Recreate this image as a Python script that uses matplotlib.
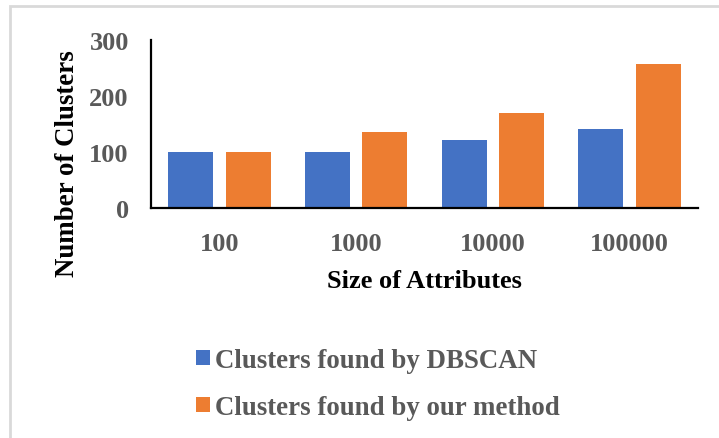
import numpy as np
import matplotlib
matplotlib.use("Agg")
from matplotlib import pyplot as plt
from matplotlib.patches import Rectangle

# data
categories = ["100", "1000", "10000", "100000"]
dbscan = [100, 100, 121, 141]
our_method = [100, 136, 170, 258]
series_names = ["Clusters found by DBSCAN", "Clusters found by our method"]

plt.rcParams['font.family'] = ['Liberation Serif', 'DejaVu Serif']
plt.rcParams['font.weight'] = 'bold'

fig = plt.figure(figsize=(7.19, 4.39), dpi=100)
ax = fig.add_axes([151 / 719, 1 - 209 / 439, (698 - 151) / 719, (209 - 41) / 439])

x = np.arange(len(categories))
w = 0.33
b1 = ax.bar(x - 0.21, dbscan, w, color="#4472C4", label=series_names[0])
b2 = ax.bar(x + 0.21, our_method, w, color="#ED7D31", label=series_names[1])

ax.set_xlim(-0.5, len(categories) - 0.5)
ax.set_ylim(0, 300)
ax.set_yticks([0, 100, 200, 300])
ax.set_xticks(x)
ax.set_xticklabels(categories)
ax.tick_params(length=0, labelsize=19, labelcolor="#595959")
ax.tick_params(axis="y", pad=16)
ax.tick_params(axis="x", pad=17)
for lbl in ax.get_xticklabels() + ax.get_yticklabels():
    lbl.set_fontweight("bold")

for s in ["top", "right"]:
    ax.spines[s].set_visible(False)
for s in ["left", "bottom"]:
    ax.spines[s].set_linewidth(1.6)
    ax.spines[s].set_color("black")

# axis titles
fig.text(67 / 719, 1 - 164 / 439, "Number of Clusters", rotation=90, ha="center", va="center",
         fontsize=19.4, fontweight="bold", color="black")
fig.text(424 / 719, 1 - 282 / 439, "Size of Attributes", ha="center", va="center",
         fontsize=19, fontweight="bold", color="black")

# legend below the plot
leg = fig.legend(handles=[b1, b2], labels=series_names, loc="upper left",
                 bbox_to_anchor=(172 / 719, 1 - 325 / 439), frameon=False,
                 handlelength=0.5, handleheight=0.5, handletextpad=0.2,
                 labelspacing=0.8, prop={"size": 19.4, "weight": "bold"})
for t in leg.get_texts():
    t.set_color("#595959")

# light grey frame round the chart
fig.patches.append(Rectangle((10 / 719, -0.01), 1.0, 1 - 7 / 439 + 0.01, transform=fig.transFigure,
                             fill=False, edgecolor="#D9D9D9", linewidth=2))

fig.savefig("out.png", dpi=100)
